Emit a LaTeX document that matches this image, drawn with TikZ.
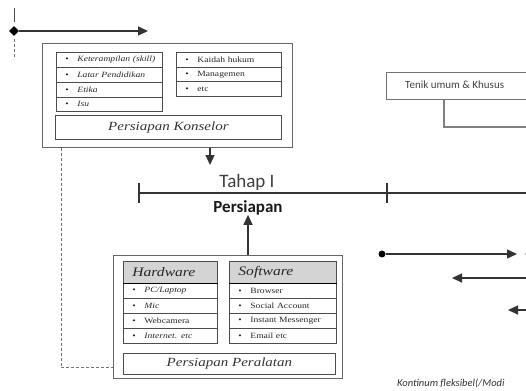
\documentclass[tikz,border=0pt]{standalone}
\usepackage{fontspec}
\newfontfamily\sr[FakeStretch=1.2]{Liberation Serif}
\newfontfamily\cb{Carlito}
\usetikzlibrary{arrows.meta,shapes.geometric}
\newcommand\itemf{\sr\fontsize{8}{9}\selectfont}
\newcommand\bigf{\sr\fontsize{12.5}{14}\selectfont\itshape}
\newcommand\headf{\sr\fontsize{13}{15}\selectfont\itshape}
\newcommand\bl{\makebox[12pt][l]{\upshape •}}
\begin{document}
\begin{tikzpicture}[x=1pt,y=-1pt,
  frame/.style={draw=black!60, line width=0.9pt, anchor=north west, inner sep=0pt},
  cell/.style={draw=black!70, line width=0.8pt, anchor=north west, inner xsep=9pt, inner ysep=0pt,
    text width=#1, align=left, font=\itemf, text=black!85},
  head/.style={cell=#1, fill=black!17, font=\headf},
  bigbox/.style={draw=black!70, line width=0.8pt, anchor=north west, inner sep=0pt, font=\bigf, text=black!80},
  arr/.style={-{Triangle[length=10pt,width=9pt]}, line width=1.3pt, draw=black!80},
  dashln/.style={draw=black!55, line width=1pt, dash pattern=on 3pt off 2pt},
  tahapln/.style={draw=black!80, line width=2.4pt},
  tick/.style={draw=black!80, line width=2pt},
  dot/.style={circle, fill=black, inner sep=0pt, minimum size=7pt}
]
\useasboundingbox (0,0) rectangle (526,390);
\clip (0,0) rectangle (526,390);

% ---------- top-left marker ----------
\node[diamond, fill=black, inner sep=0pt, minimum size=10pt] (dia) at (14,31) {};
\coordinate (vtop) at (14,8);
\coordinate (vmid) at (14,22);
\coordinate (vlow) at (14,39);
\coordinate (vend) at (14,58);
\draw[draw=black!70, line width=1pt] (vtop) -- (vmid);
\draw[dashln] (vlow) -- (vend);
\coordinate (topend) at (148,31);
\draw[arr] (dia) -- (topend);

% ---------- Persiapan Konselor ----------
\node[frame, minimum width=250pt, minimum height=104pt] (kons) at (42,43) {};
\node[cell=88pt, minimum height=15pt] (k1) at (56,52) {\mbox{\bl\textit{Keterampilan (skill)}}};
\node[cell=88pt, minimum height=15pt] (k2) at (56,67) {\bl\textit{Latar Pendidikan}};
\node[cell=88pt, minimum height=15pt] (k3) at (56,82) {\bl\textit{Etika}};
\node[cell=88pt, minimum height=14pt] (k4) at (56,97) {\bl\textit{Isu}};
\node[cell=87pt, minimum height=14.7pt] (r1) at (176,52) {\bl Kaidah hukum};
\node[cell=87pt, minimum height=14.7pt] (r2) at (176,66.7) {\bl Managemen};
\node[cell=87pt, minimum height=14.7pt] (r3) at (176,81.4) {\bl etc};
\node[bigbox, minimum width=226pt, minimum height=24pt] (pk) at (55,115) {Persiapan Konselor};

% ---------- Tahap I ----------
\node[anchor=base, font=\cb\fontsize{19}{21}\selectfont, text=black!75, inner sep=0pt] (tahap) at (247,187) {Tahap I};
\node[anchor=base, font=\cb\bfseries\fontsize{17}{19}\selectfont, text=black!90, inner sep=0pt] (pers) at (248,212) {Persiapan};
\coordinate (tl) at (139,193);
\coordinate (tr) at (530,193);
\draw[tahapln] (tl) -- (tr);
\draw[tick] (139,183) -- (139,203);
\draw[tick] (387,183) -- (387,203);
\coordinate (konsArrEnd) at (210,165);
\draw[arr] (kons.south -| konsArrEnd) -- (konsArrEnd);

% ---------- Persiapan Peralatan ----------
\node[frame, minimum width=229pt, minimum height=123pt] (equip) at (113,255) {};
\node[head=76pt, minimum height=22pt] (hw) at (123,261) {Hardware};
\node[cell=76pt, minimum height=15pt] (h1) at (123,283) {\bl\textit{PC/Laptop}};
\node[cell=76pt, minimum height=15pt] (h2) at (123,298) {\bl\textit{Mic}};
\node[cell=76pt, minimum height=15pt] (h3) at (123,313) {\bl Webcamera};
\node[cell=76pt, minimum height=15pt] (h4) at (123,328) {\bl\textit{Internet. etc}};
\node[head=89pt, minimum height=22pt] (sw) at (229,261) {Software};
\node[cell=89pt, minimum height=15pt] (s1) at (229,283) {\bl Browser};
\node[cell=89pt, minimum height=15pt] (s2) at (229,298) {\bl Social Account};
\node[cell=89pt, minimum height=15pt] (s3) at (229,313) {\bl Instant Messenger};
\node[cell=89pt, minimum height=15pt] (s4) at (229,328) {\bl Email etc};
\draw[draw=black, line width=1.3pt] (hw.south west) -- (hw.south east);
\draw[draw=black, line width=1.3pt] (sw.south west) -- (sw.south east);
\node[bigbox, minimum width=212pt, minimum height=21pt] (pp) at (123,353) {Persiapan Peralatan};
\draw[arr] (equip.north -| pers) -- (pers.south);
\draw[dashln] ([xshift=19pt]kons.south west) |- ([yshift=11pt]equip.south west);

% ---------- right side ----------
\node[frame, draw=black!55, minimum width=160pt, minimum height=27pt] (tenik) at (386,72) {};
\node[anchor=west, font=\cb\fontsize{11}{13}\selectfont, text=black!75, inner sep=0pt] (tenikT) at (405,85) {Tenik umum \& Khusus};
\coordinate (tenikEnd) at (530,127);
\draw[draw=black!50, line width=1.2pt] ([xshift=58pt]tenik.south west) |- (tenikEnd);

\node[dot] (d1) at (382,254) {};
\coordinate (a1) at (517,254);
\draw[arr] (d1) -- (a1);
\node[dot] (d2) at (529,254) {};
\coordinate (b2) at (530,278);
\coordinate (a2) at (452,278);
\draw[arr] (b2) -- (a2);
\coordinate (b3) at (530,310);
\coordinate (a3) at (508,310);
\draw[arr] (b3) -- (a3);

\node[anchor=base west, font=\cb\itshape\fontsize{10.5}{12}\selectfont, text=black!80, inner sep=0pt] (kont) at (397,386) {Kontinum fleksibel(/Modi};
\end{tikzpicture}
\end{document}
